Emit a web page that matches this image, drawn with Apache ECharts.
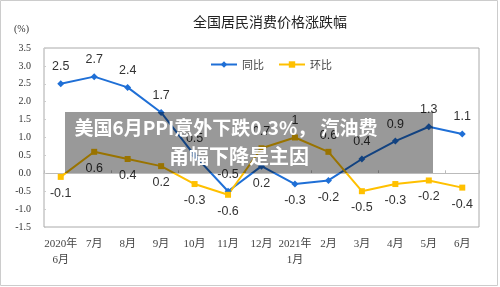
<!DOCTYPE html>
<html>
<head>
<meta charset="utf-8">
<script src="https://cdn.jsdelivr.net/npm/echarts@6/dist/echarts.min.js"></script>
<style>
html,body{margin:0;padding:0;background:#fff;}
#main{width:500px;height:287px;}
</style>
</head>
<body>
<div id="main"></div>
<script>
const categories = ['2020年\n6月','7月','8月','9月','10月','11月','12月','2021年\n1月','2月','3月','4月','5月','6月'];
const yoy = [2.5, 2.7, 2.4, 1.7, 0.5, -0.5, 0.2, -0.3, -0.2, 0.4, 0.9, 1.3, 1.1];
const mom = [-0.1, 0.6, 0.4, 0.2, -0.3, -0.6, 0.7, 1.0, 0.6, -0.5, -0.3, -0.2, -0.4];
const yTicks = [-1.5, -1.0, -0.5, 0.0, 0.5, 1.0, 1.5, 2.0, 2.5, 3.0, 3.5];
const titleText = '全国居民消费价格涨跌幅';
const unitText = '(%)';
const seriesNames = ['同比', '环比'];
const overlayLines = ['美国6月PPI意外下跌0.3%， 汽油费', '甬幅下降是主因'];

const BLUE = '#1f6fd6';
const YELLOW = '#ffc000';

const labelFont = {fontFamily: 'Liberation Sans, Arial, sans-serif', fontSize: 12.5, color: '#333'};

const yoyData = yoy.map((v, i) => ({
  value: v,
  label: {position: v >= mom[i] ? 'top' : 'bottom'}
}));
const momData = mom.map((v, i) => ({
  value: v,
  label: {position: v > yoy[i] ? 'top' : 'bottom'}
}));

const chart = echarts.init(document.getElementById('main'), null, {renderer: 'canvas'});
chart.setOption({
  animation: false,
  backgroundColor: '#fff',
  title: {
    text: titleText,
    left: 265, top: 10, textAlign: 'center',
    textStyle: {fontFamily: 'Noto Sans CJK SC', fontSize: 14, fontWeight: 'normal', color: '#222'}
  },
  legend: {
    left: 205, top: 54,
    itemWidth: 26, itemHeight: 8, itemGap: 14,
    textStyle: {fontFamily: 'Noto Sans CJK SC', fontSize: 11, color: '#444'},
    data: seriesNames
  },
  grid: {
    left: 44, right: 21, top: 48, bottom: 60,
    show: true, borderColor: '#aaa', borderWidth: 1
  },
  xAxis: [{
    type: 'category',
    data: categories,
    boundaryGap: true,
    axisLine: {show: false, onZero: false},
    axisTick: {show: false},
    axisLabel: {
      margin: 9, interval: 0,
      fontFamily: 'Liberation Serif, Noto Sans CJK SC, serif',
      fontSize: 11, color: '#444', lineHeight: 16
    }
  }, {
    type: 'category',
    data: categories,
    boundaryGap: true,
    position: 'bottom',
    axisLine: {show: true, onZero: true, lineStyle: {color: '#bbb', width: 1}},
    axisTick: {show: true, inside: true, length: 3, lineStyle: {color: '#bbb'}},
    axisLabel: {show: false}
  }],
  yAxis: {
    type: 'value',
    min: yTicks[0], max: yTicks[yTicks.length - 1], interval: 0.5,
    axisLine: {show: false},
    axisTick: {show: true, inside: true, length: 2, lineStyle: {color: '#ccc'}},
    splitLine: {show: false},
    axisLabel: {
      margin: 13,
      fontFamily: 'Liberation Serif, serif', fontSize: 10, color: '#333',
      formatter: v => v.toFixed(1)
    }
  },
  graphic: [
    {
      type: 'rect', z: -1, silent: true,
      shape: {x: 0.5, y: 0.5, width: 497, height: 285},
      style: {fill: 'none', stroke: '#ccc', lineWidth: 1}
    },
    {
      type: 'text', left: 14, top: 24,
      style: {text: unitText, font: '10px "Liberation Serif", serif', fill: '#333'}
    },
    {
      type: 'rect', z: 100,
      shape: {x: 65, y: 112, width: 368, height: 61},
      style: {fill: 'rgba(0,0,0,0.4)'}
    },
    {
      type: 'text', z: 101,
      x: 226, y: 128,
      style: {
        text: overlayLines[0], fill: '#fff', align: 'center', verticalAlign: 'middle',
        font: 'bold 19px "Noto Sans CJK SC", sans-serif'
      }
    },
    {
      type: 'text', z: 101,
      x: 239, y: 156,
      style: {
        text: overlayLines[1], fill: '#fff', align: 'center', verticalAlign: 'middle',
        font: 'bold 20px "Noto Sans CJK SC", sans-serif'
      }
    }
  ],
  series: [{
    name: seriesNames[0],
    type: 'line',
    data: yoyData,
    color: BLUE,
    lineStyle: {color: BLUE, width: 2},
    itemStyle: {color: BLUE},
    symbol: 'diamond', symbolSize: 7,
    label: {show: true, distance: 7, ...labelFont}
  }, {
    name: seriesNames[1],
    type: 'line',
    data: momData,
    color: YELLOW,
    lineStyle: {color: YELLOW, width: 2},
    itemStyle: {color: YELLOW},
    symbol: 'rect', symbolSize: 6,
    label: {show: true, distance: 7, ...labelFont}
  }]
});
</script>
</body>
</html>
